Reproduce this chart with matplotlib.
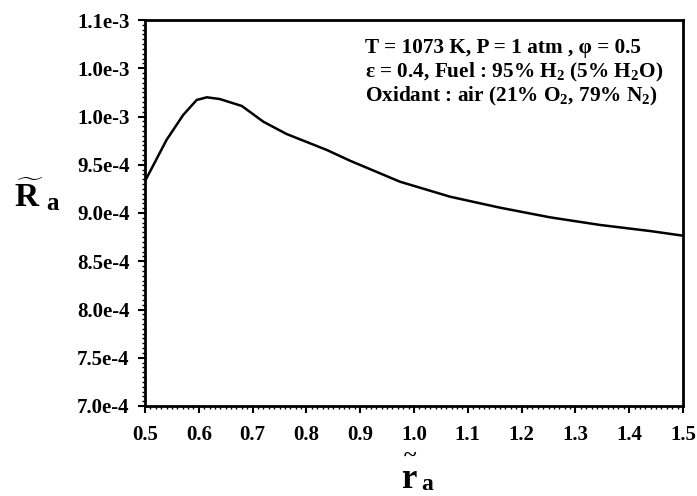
import matplotlib
matplotlib.use("Agg")
import matplotlib.pyplot as plt
from matplotlib.ticker import MultipleLocator, FuncFormatter

plt.rcParams['font.family'] = ['Liberation Serif', 'DejaVu Serif']
plt.rcParams['font.weight'] = 'bold'
plt.rcParams['mathtext.fontset'] = 'custom'
plt.rcParams['mathtext.rm'] = 'Liberation Serif:bold'
plt.rcParams['mathtext.bf'] = 'Liberation Serif:bold'
plt.rcParams['mathtext.it'] = 'Liberation Serif:bold'
plt.rcParams['mathtext.default'] = 'rm'

r_a = [0.50, 0.54, 0.571, 0.596, 0.615, 0.639, 0.680, 0.720, 0.763, 0.838,
       0.881, 0.974, 1.067, 1.160, 1.253, 1.346, 1.439, 1.50]
R_a = [9.33e-4, 9.757e-4, 1.0016e-3, 1.0171e-3, 1.0199e-3, 1.0181e-3, 1.0109e-3,
       9.946e-4, 9.819e-4, 9.653e-4, 9.542e-4, 9.324e-4, 9.169e-4, 9.055e-4,
       8.955e-4, 8.876e-4, 8.813e-4, 8.765e-4]

annot_lines = ["T = 1073 K, P = 1 atm , \u03c6 = 0.5",
               "\u03b5 = 0.4, Fuel : 95% H$_2$ (5% H$_2$O)",
               "Oxidant : air (21% O$_2$, 79% N$_2$)"]

W, H = 697, 496
fig = plt.figure(figsize=(W/100, H/100), dpi=100)
ax = fig.add_axes([145/W, (H-406)/H, (683-145)/W, (406-20)/H])
ax.plot(r_a, R_a, color='black', lw=1.8)
ax.set_xlim(0.5, 1.5)
ax.set_ylim(7.0e-4, 1.1e-3)
ax.xaxis.set_major_locator(MultipleLocator(0.1))
ax.xaxis.set_minor_locator(MultipleLocator(0.01))
ax.yaxis.set_major_locator(MultipleLocator(5e-5))
ax.yaxis.set_minor_locator(MultipleLocator(5e-6))
ax.xaxis.set_major_formatter(FuncFormatter(lambda v, p: f"{v:.1f}"))
def yfmt(v, p):
    s = f"{v:.1e}"
    m, e = s.split('e')
    return f"{m}e{int(e)}"
ax.yaxis.set_major_formatter(FuncFormatter(yfmt))
for s in ax.spines.values():
    s.set_linewidth(2)
ax.tick_params(which='major', direction='out', length=5, width=1.5, labelsize=15, pad=6)
ax.tick_params(which='minor', direction='out', length=2.5, width=1)
ax.tick_params(axis='x', which='major', pad=9)
for lab in ax.get_xticklabels() + ax.get_yticklabels():
    lab.set_fontweight('bold')

for i, t in enumerate(annot_lines):
    fig.text(365/W, 1 - (53 + 24*i)/H, t, fontsize=15.3, fontweight='bold',
             ha='left', va='baseline')

# y label: R~ a
fig.text(29/W, 1 - 207/H, r"$\widetilde{\mathrm{R}}$", fontsize=24, ha='center', va='baseline')
fig.text(53/W, 1 - 210/H, "a", fontsize=18, fontweight='bold', ha='center', va='baseline')

# x label: r~ a
fig.text(409/W, 1 - 488/H, "r", fontsize=25, fontweight='bold', ha='center', va='baseline')
fig.text(410/W, 1 - 463/H, "~", fontsize=17, fontweight='bold', ha='center', va='baseline')
fig.text(427/W, 1 - 490/H, "a", fontsize=17, fontweight='bold', ha='center', va='baseline')

fig.savefig("out.png", dpi=100)
